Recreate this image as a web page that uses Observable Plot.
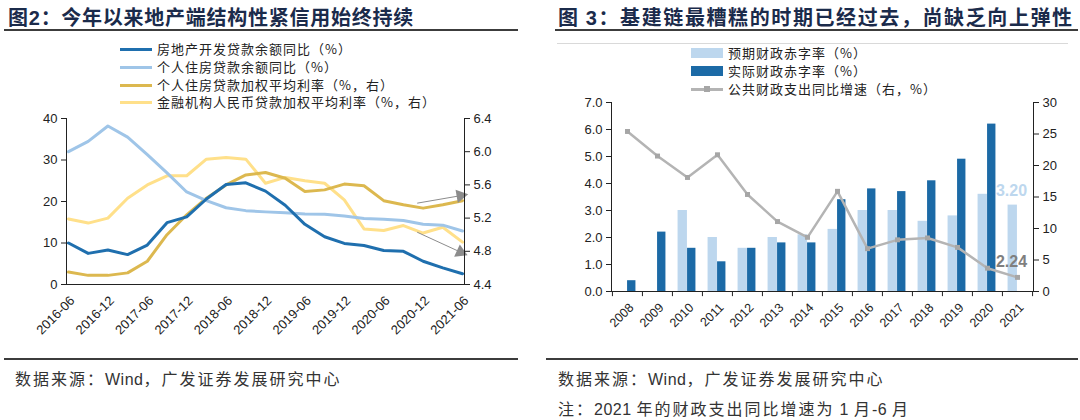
<!DOCTYPE html>
<html><head><meta charset="utf-8">
<script src="https://cdn.jsdelivr.net/npm/d3@7"></script>
<script src="https://cdn.jsdelivr.net/npm/@observablehq/plot@0.6"></script>
<style>
body{margin:0;background:#fff;}
#root{position:relative;width:1080px;height:420px;overflow:hidden;font-family:"Noto Sans CJK SC",sans-serif;background:#fff;}
.abs{position:absolute;}
.title{position:absolute;font-size:20px;font-weight:bold;color:#1b2b4b;white-space:nowrap;line-height:24px;letter-spacing:0.75px;}
.title b{font-family:"Liberation Sans",Arial,sans-serif;}
.rule{position:absolute;height:2px;background:#3c3c3c;}
.leg{position:absolute;font-size:13px;color:#222;white-space:nowrap;letter-spacing:1px;line-height:16px;}
.sw{position:absolute;}
.cap{position:absolute;font-size:16px;color:#333;letter-spacing:2px;white-space:nowrap;line-height:18px;}
.cap span{font-family:"Liberation Sans",Arial,sans-serif;letter-spacing:0.5px;}
</style></head>
<body>
<div id="root">
  <div class="title" style="left:8px;top:5px;">图<b>2</b>：今年以来地产端结构性紧信用始终持续</div>
  <div class="rule" style="left:4px;width:514px;top:29px;"></div>
  <div class="title" style="left:558px;top:5px;letter-spacing:1.6px;">图 <b>3</b>：基建链最糟糕的时期已经过去，尚缺乏向上弹性</div>
  <div class="rule" style="left:555px;width:523px;top:29px;"></div>
  <div class="abs" style="left:557px;width:511px;top:43px;height:1px;background:#d9d9d9;"></div>

  <div id="legL"></div>
  <div id="legR"></div>
  <div id="chartL" class="abs" style="left:0;top:100px;"></div>
  <div id="chartR" class="abs" style="left:540px;top:90px;"></div>

  <div class="rule" style="left:4px;width:514px;top:358px;"></div>
  <div class="rule" style="left:546px;width:532px;top:358px;"></div>
  <div class="cap" style="left:15px;top:369px;">数据来源：<span>Wind</span>，广发证券发展研究中心</div>
  <div class="cap" style="left:558px;top:369px;">数据来源：<span>Wind</span>，广发证券发展研究中心</div>
  <div class="cap" style="left:558px;top:399px;">注：<span>2021 </span>年的财政支出同比增速为<span> 1 </span>月<span>-6 </span>月</div>
</div>
<script>
// ---------- Left chart data ----------
const quarters = ["2016-06","2016-09","2016-12","2017-03","2017-06","2017-09","2017-12","2018-03","2018-06","2018-09","2018-12","2019-03","2019-06","2019-09","2019-12","2020-03","2020-06","2020-09","2020-12","2021-03","2021-06"];
const devLoanYoY   = [10.0,7.5,8.3,7.2,9.5,14.9,16.3,20.6,24.1,24.5,22.5,19.1,14.5,11.5,9.9,9.4,8.2,8.0,5.6,4.0,2.6];
const mortgageYoY  = [32.0,34.5,38.2,35.5,31.3,26.9,22.3,20.2,18.5,17.8,17.5,17.3,17.0,16.9,16.5,15.9,15.7,15.4,14.5,14.3,12.9];
const mortgageRate = [4.55,4.51,4.51,4.54,4.68,5.00,5.24,5.44,5.60,5.72,5.75,5.68,5.52,5.54,5.61,5.59,5.41,5.36,5.32,5.36,5.41];
const loanRate     = [5.19,5.14,5.20,5.44,5.60,5.71,5.71,5.91,5.93,5.91,5.62,5.69,5.65,5.62,5.42,5.07,5.05,5.11,5.02,5.09,4.91];
const leftTicks  = [0,10,20,30,40];
const rightTicksL = [4.4,4.8,5.2,5.6,6.0,6.4];
// annotation arrows (quarter index, right-axis value)
const arrowsL = [
  {x1:17.7, v1:5.38, x2:19.9, v2:5.47},
  {x1:17.7, v1:5.03, x2:19.9, v2:4.79}
];
const seriesL = [
  {name:"房地产开发贷款余额同比（%）", color:"#1f6fae"},
  {name:"个人住房贷款余额同比（%）", color:"#9fc5e8"},
  {name:"个人住房贷款加权平均利率（%，右）", color:"#dcb84f"},
  {name:"金融机构人民币贷款加权平均利率（%，右）", color:"#ffe08a"}
];

// ---------- Right chart data ----------
const years = ["2008","2009","2010","2011","2012","2013","2014","2015","2016","2017","2018","2019","2020","2021"];
const expectedDeficit = [null,null,3.0,2.0,1.6,2.0,2.1,2.3,3.0,3.0,2.6,2.8,3.6,3.2];
const actualDeficit   = [0.4,2.2,1.6,1.1,1.6,1.8,1.8,3.4,3.8,3.7,4.1,4.9,6.2,null];
const spendingGrowth  = [25.4,21.5,18.1,21.7,15.4,11.1,8.6,15.9,6.8,8.2,8.5,7.0,3.7,2.24];
const rightTicksY = [0,1,2,3,4,5,6,7];
const rightTicksY2 = [0,5,10,15,20,25,30];
const seriesR = [
  {name:"预期财政赤字率（%）", color:"#bdd7ee"},
  {name:"实际财政赤字率（%）", color:"#1c6aa6"},
  {name:"公共财政支出同比增速（右，%）", color:"#b4b4b4"}
];

// ---------- Legends ----------
const legL = document.getElementById("legL");
const rowsL = [49,67,85,102];
seriesL.forEach((s,i)=>{
  legL.insertAdjacentHTML("beforeend",
    `<div class="sw" style="left:120px;top:${rowsL[i]-1.5}px;width:32px;height:3px;background:${s.color}"></div>
     <div class="leg" style="left:157px;top:${rowsL[i]-8}px">${s.name}</div>`);
});
const legR = document.getElementById("legR");
const rowsR = [53,71,89];
seriesR.forEach((s,i)=>{
  let sw;
  if (i<2) sw = `<div class="sw" style="left:691px;top:${rowsR[i]-5}px;width:32px;height:10px;background:${s.color}"></div>`;
  else sw = `<div class="sw" style="left:691px;top:${rowsR[i]-1}px;width:32px;height:2.5px;background:${s.color}"></div>
             <div class="sw" style="left:704px;top:${rowsR[i]-3}px;width:6px;height:6px;background:#a6a6a6"></div>`;
  legR.insertAdjacentHTML("beforeend", sw + `<div class="leg" style="left:728px;top:${rowsR[i]-8}px">${s.name}</div>`);
});

// ---------- Left chart ----------
const rMapL = v => (v-4.4)/2*40;
const dataL = quarters.map((q,i)=>({i, q, dev:devLoanYoY[i], mort:mortgageYoY[i], mr:rMapL(mortgageRate[i]), lr:rMapL(loanRate[i])}));
const tickFont = "'Liberation Sans', Arial, sans-serif";
const chartL = Plot.plot({
  width:540, height:240, marginTop:18, marginBottom:56, marginLeft:66, marginRight:76,
  style:{fontFamily:tickFont, fontSize:"13px", color:"#222", background:"transparent", overflow:"visible"},
  x:{domain:[0,20], inset:2},
  y:{domain:[0,40]},
  marks:[
    Plot.line(dataL,{x:"i", y:"lr", stroke:seriesL[3].color, strokeWidth:3}),
    Plot.line(dataL,{x:"i", y:"mr", stroke:seriesL[2].color, strokeWidth:3}),
    Plot.line(dataL,{x:"i", y:"mort", stroke:seriesL[1].color, strokeWidth:3}),
    Plot.line(dataL,{x:"i", y:"dev", stroke:seriesL[0].color, strokeWidth:3}),
    Plot.link(arrowsL,{x1:"x1", y1:d=>rMapL(d.v1), x2:"x2", y2:d=>rMapL(d.v2), stroke:"#8c8c8c", strokeWidth:1}),
    Plot.dot(arrowsL,{x:"x2", y:d=>rMapL(d.v2), symbol:"triangle", r:5, fill:"#8c8c8c",
      rotate:(d)=>{ const a = Math.atan2(-(rMapL(d.v2)-rMapL(d.v1))*166/40, (d.x2-d.x1)*19.75)*180/Math.PI; return 90 + a; }}),
    Plot.frame({anchor:"left", stroke:"#222"}),
    Plot.frame({anchor:"right", stroke:"#222"}),
    Plot.frame({anchor:"bottom", stroke:"#222"}),
    Plot.axisY({anchor:"left", ticks:leftTicks, tickSize:5, tickPadding:4, label:null, fontSize:13}),
    Plot.axisY({anchor:"right", ticks:rightTicksL.map(rMapL), tickFormat:v=>(v/40*2+4.4).toFixed(1), tickSize:5, tickPadding:4, label:null, fontSize:13}),
    Plot.axisX({ticks:d3.range(0,21,2), tickFormat:i=>quarters[i], tickRotate:-45, tickSize:0, tickPadding:14, dx:4, label:null, fontSize:13})
  ]
});
document.getElementById("chartL").appendChild(chartL);

// ---------- Right chart ----------
const k = 7/30;
const dataR = years.map((y,i)=>({year:y, exp:expectedDeficit[i], act:actualDeficit[i], g:spendingGrowth[i]*k, graw:spendingGrowth[i]}));
const bw = (540-71-47)/years.length;
const chartR = Plot.plot({
  width:540, height:245, marginTop:12, marginBottom:44, marginLeft:71, marginRight:47,
  style:{fontFamily:tickFont, fontSize:"13px", color:"#222", background:"transparent", overflow:"visible"},
  x:{type:"band", domain:years, padding:0},
  y:{domain:[0,7]},
  marks:[
    Plot.barY(dataR.filter(d=>d.exp!=null),{x:"year", y:"exp", fill:seriesR[0].color, insetLeft:bw/2-9.5, insetRight:bw/2}),
    Plot.barY(dataR.filter(d=>d.act!=null),{x:"year", y:"act", fill:seriesR[1].color, insetLeft:bw/2, insetRight:bw/2-8.5}),
    Plot.line(dataR,{x:"year", y:"g", stroke:seriesR[2].color, strokeWidth:2.5}),
    Plot.dot(dataR,{x:"year", y:"g", symbol:"square", r:2.8, fill:"#a6a6a6"}),
    Plot.text(dataR.filter(d=>d.year==="2021"),{x:"year", y:"exp", text:d=>d.exp.toFixed(2), fill:"#bdd7ee", fontWeight:"bold", fontSize:16, dx:-6, dy:-14}),
    Plot.text(dataR.filter(d=>d.year==="2021"),{x:"year", y:"g", text:d=>d.graw.toFixed(2), fill:"#7f7f7f", fontWeight:"bold", fontSize:16, dx:-6, dy:-16}),
    Plot.ruleX(years,{x:d=>d, y1:0, y2:-0.19, dx:-bw/2, stroke:"#222"}),
    Plot.ruleX(["2021"],{x:d=>d, y1:0, y2:-0.19, dx:bw/2, stroke:"#222"}),
    Plot.frame({anchor:"left", stroke:"#222"}),
    Plot.frame({anchor:"right", stroke:"#222"}),
    Plot.frame({anchor:"bottom", stroke:"#222"}),
    Plot.axisY({anchor:"left", ticks:rightTicksY, tickFormat:v=>v.toFixed(1), tickSize:5, tickPadding:4, label:null, fontSize:13}),
    Plot.axisY({anchor:"right", ticks:rightTicksY2.map(v=>v*k), tickFormat:v=>String(Math.round(v/k)), tickSize:5, tickPadding:4, label:null, fontSize:13}),
    Plot.axisX({tickRotate:-45, tickSize:0, tickPadding:14, dx:4, label:null, fontSize:12.5})
  ]
});
document.getElementById("chartR").appendChild(chartR);
</script>
</body></html>
